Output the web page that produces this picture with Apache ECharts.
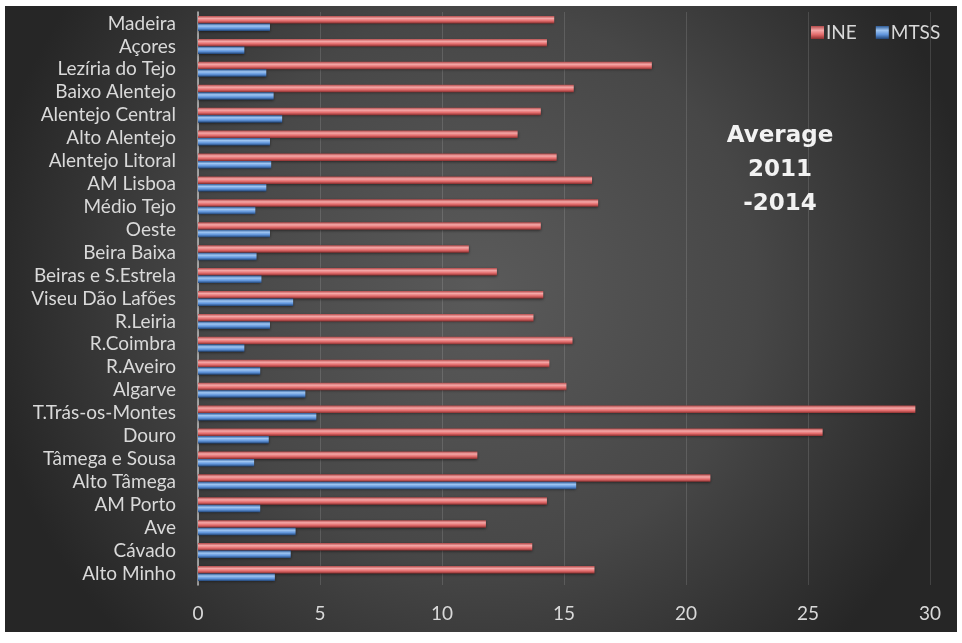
<!DOCTYPE html>
<html>
<head>
<meta charset="utf-8">
<script src="https://cdn.jsdelivr.net/npm/echarts@6/dist/echarts.min.js"></script>
<style>
  html, body { margin: 0; padding: 0; background: #ffffff; }
  #chart { position: absolute; left: 5px; top: 6px; width: 952px; height: 626px; }
</style>
</head>
<body>
<div id="chart"></div>
<script>
// 地区（自下而上）
const regions = [
    'Alto Minho', 'Cávado', 'Ave', 'AM Porto', 'Alto Tâmega', 'Tâmega e Sousa',
    'Douro', 'T.Trás-os-Montes', 'Algarve', 'R.Aveiro', 'R.Coimbra', 'R.Leiria',
    'Viseu Dão Lafões', 'Beiras e S.Estrela', 'Beira Baixa', 'Oeste', 'Médio Tejo',
    'AM Lisboa', 'Alentejo Litoral', 'Alto Alentejo', 'Alentejo Central',
    'Baixo Alentejo', 'Lezíria do Tejo', 'Açores', 'Madeira'
];

const ineValues = [
    16.25, 13.7, 11.8, 14.3, 21.0, 11.45,
    25.6, 29.4, 15.1, 14.4, 15.35, 13.75,
    14.15, 12.25, 11.1, 14.05, 16.4,
    16.15, 14.7, 13.1, 14.05,
    15.4, 18.6, 14.3, 14.6
];

const mtssValues = [
    3.15, 3.8, 4.0, 2.55, 15.5, 2.3,
    2.9, 4.85, 4.4, 2.55, 1.9, 2.95,
    3.9, 2.6, 2.4, 2.95, 2.35,
    2.8, 3.0, 2.95, 3.45,
    3.1, 2.8, 1.9, 2.95
];

const xTicks = { min: 0, max: 30, interval: 5 };

const labelFont = 'Lato, "Open Sans", sans-serif';

function barGradient(stops) {
    return new echarts.graphic.LinearGradient(0, 0, 0, 1, stops.map((c, i) => ({
        offset: i / (stops.length - 1),
        color: c
    })));
}

const ineColor = barGradient(['#b34a4a', '#f5a8a8', '#e26a6a', '#8a2f2f']);
const mtssColor = barGradient(['#2c5a96', '#a0c6f2', '#5f94db', '#214475']);

const chart = echarts.init(document.getElementById('chart'));

const option = {
    backgroundColor: new echarts.graphic.RadialGradient(0.5, 0.45, 0.8, [
        { offset: 0, color: '#5a5a5a' },
        { offset: 0.55, color: '#474747' },
        { offset: 1, color: '#262626' }
    ]),
    animation: false,
    title: {
        text: 'Average\n2011\n-2014',
        left: 770,
        top: 108,
        textAlign: 'center',
        textStyle: {
            color: '#f2f2f2',
            fontFamily: '"DejaVu Sans", sans-serif',
            fontWeight: 'bold',
            fontSize: 23,
            lineHeight: 34
        }
    },
    legend: {
        data: ['INE', 'MTSS'],
        left: 801,
        top: 12,
        itemWidth: 13,
        itemHeight: 13,
        itemGap: 19,
        icon: 'rect',
        textStyle: {
            color: '#d9d9d9',
            fontFamily: labelFont,
            fontSize: 19,
            padding: [0, 0, 0, -3]
        }
    },
    grid: {
        left: 193,
        right: 27,
        top: 6,
        bottom: 47,
        containLabel: false
    },
    xAxis: {
        type: 'value',
        min: xTicks.min,
        max: xTicks.max,
        interval: xTicks.interval,
        axisLine: { show: false },
        axisTick: { show: false },
        axisLabel: {
            color: '#d9d9d9',
            fontFamily: labelFont,
            fontSize: 19,
            margin: 19
        },
        splitLine: {
            lineStyle: { color: 'rgba(255,255,255,0.13)', width: 1 }
        }
    },
    yAxis: {
        type: 'category',
        data: regions,
        axisLine: { lineStyle: { color: '#bdbdbd', width: 1.5 } },
        axisTick: { show: false },
        axisLabel: {
            color: '#d9d9d9',
            fontFamily: labelFont,
            fontSize: 19,
            margin: 22,
            interval: 0
        }
    },
    series: [
        {
            name: 'INE',
            type: 'bar',
            data: ineValues,
            barWidth: 7.5,
            barGap: '0%',
            itemStyle: { color: ineColor, shadowColor: 'rgba(0,0,0,0.5)', shadowBlur: 3, shadowOffsetY: 1 }
        },
        {
            name: 'MTSS',
            type: 'bar',
            data: mtssValues,
            barWidth: 7.5,
            barGap: '0%',
            itemStyle: { color: mtssColor, shadowColor: 'rgba(0,0,0,0.5)', shadowBlur: 3, shadowOffsetY: 1 }
        }
    ]
};

chart.setOption(option);

window.addEventListener('resize', () => chart.resize());
</script>
</body>
</html>
